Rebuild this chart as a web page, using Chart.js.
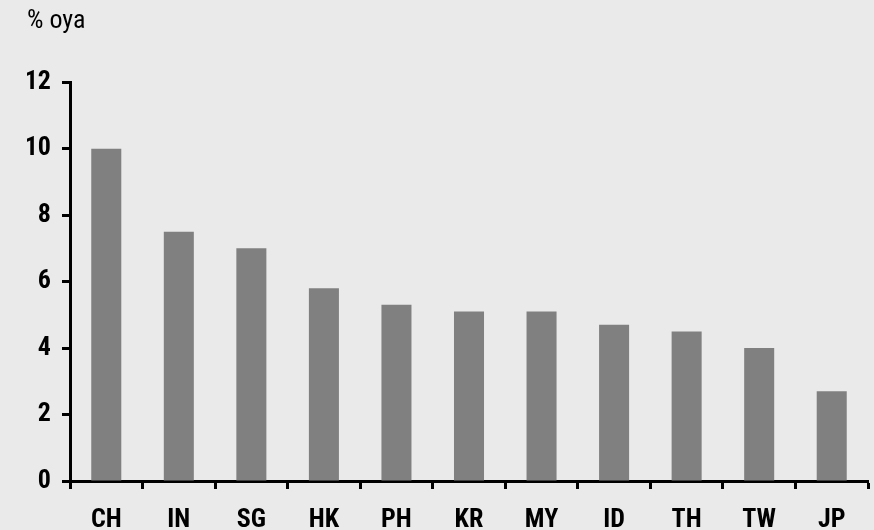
<!DOCTYPE html>
<html>
<head>
<meta charset="utf-8">
<script src="https://cdn.jsdelivr.net/npm/chart.js@4/dist/chart.umd.min.js"></script>
<style>
  html, body { margin: 0; padding: 0; background: #eaeaea; }
  #wrap { width: 874px; height: 530px; position: relative; }
</style>
</head>
<body>
<div id="wrap"><canvas id="c" width="874" height="530"></canvas></div>
<script>
const categories = ['CH', 'IN', 'SG', 'HK', 'PH', 'KR', 'MY', 'ID', 'TH', 'TW', 'JP'];
const growth = [10.0, 7.5, 7.0, 5.8, 5.3, 5.1, 5.1, 4.7, 4.5, 4.0, 2.7];
const yTicks = [0, 2, 4, 6, 8, 10, 12];
const unitLabel = '% oya';

const FONT = "'Liberation Sans Narrow', 'Arial Narrow', 'Roboto Condensed', 'Liberation Sans', sans-serif";

const bg = {
  id: 'bg',
  beforeDraw(chart) {
    const ctx = chart.ctx;
    ctx.save();
    ctx.fillStyle = '#eaeaea';
    ctx.fillRect(0, 0, chart.width, chart.height);
    ctx.restore();
  }
};

new Chart(document.getElementById('c'), {
  type: 'bar',
  data: {
    labels: categories,
    datasets: [{
      data: growth,
      backgroundColor: '#808080',
      borderWidth: 0,
      categoryPercentage: 1,
      barPercentage: 0.414
    }]
  },
  options: {
    responsive: false,
    animation: false,
    layout: { padding: { left: 27, right: 6, top: 0, bottom: 0 } },
    plugins: {
      legend: { display: false },
      tooltip: { enabled: false },
      title: {
        display: true,
        text: unitLabel,
        align: 'start',
        color: '#000',
        font: { family: FONT, size: 26, weight: 'normal' },
        padding: { top: 6, bottom: 45 }
      }
    },
    scales: {
      x: {
        offset: true,
        border: { display: true, color: '#000', width: 3 },
        grid: { display: true, offset: true, drawOnChartArea: false, drawTicks: true, tickLength: 8, tickWidth: 3, tickColor: '#000' },
        ticks: { color: '#000', padding: 16, font: { family: FONT, size: 26, weight: 'bold' }, maxRotation: 0 },
        afterFit(s) { s.height = 49; }
      },
      y: {
        min: 0,
        max: 12,
        afterBuildTicks(s) { s.ticks = yTicks.map(v => ({ value: v })); },
        border: { display: true, color: '#000', width: 3 },
        grid: { display: true, drawOnChartArea: false, drawTicks: true, tickLength: 8, tickWidth: 3, tickColor: '#000' },
        ticks: { color: '#000', padding: 11, font: { family: FONT, size: 26, weight: 'bold' } },
        afterFit(s) { s.width = 43; }
      }
    }
  },
  plugins: [bg]
});
</script>
</body>
</html>
